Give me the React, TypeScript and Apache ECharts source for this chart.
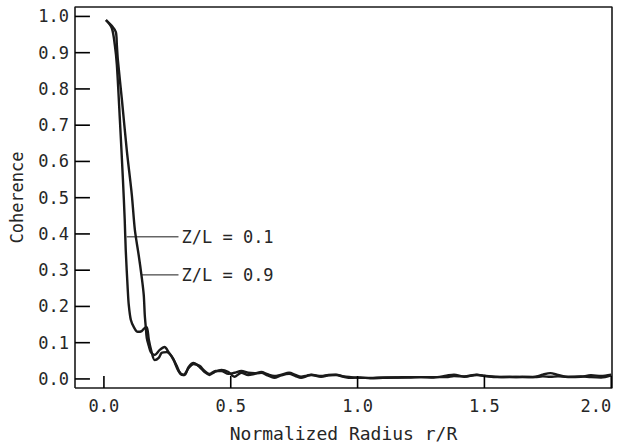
import React, { useEffect, useRef } from "react";
import * as echarts from "echarts";

const xTicks = [0, 0.5, 1.0, 1.5, 2.0];
const yTicks = [0, 0.1, 0.2, 0.3, 0.4, 0.5, 0.6, 0.7, 0.8, 0.9, 1.0];

// Z/L = 0.1 (steeper curve)
const curveA: [number, number][] = [
  [0.008, 0.99], [0.031, 0.968], [0.043, 0.921], [0.051, 0.866], [0.063, 0.714],
  [0.075, 0.549], [0.082, 0.439], [0.086, 0.356], [0.094, 0.246], [0.098, 0.204],
  [0.106, 0.163], [0.118, 0.143], [0.133, 0.13], [0.149, 0.132], [0.161, 0.141],
  [0.169, 0.143], [0.177, 0.108], [0.188, 0.074], [0.2, 0.052], [0.216, 0.058],
  [0.228, 0.072], [0.247, 0.074], [0.267, 0.063], [0.287, 0.036], [0.302, 0.014],
  [0.318, 0.011], [0.334, 0.033], [0.353, 0.044], [0.377, 0.033], [0.397, 0.019],
  [0.416, 0.011], [0.436, 0.019], [0.463, 0.025], [0.491, 0.019], [0.514, 0.006],
  [0.542, 0.017], [0.569, 0.011], [0.595, 0.014], [0.62, 0.017], [0.645, 0.01],
  [0.671, 0.003], [0.7, 0.01], [0.73, 0.014], [0.755, 0.008], [0.777, 0.003],
  [0.8, 0.008], [0.817, 0.011], [0.856, 0.006], [0.885, 0.01], [0.915, 0.011],
  [0.945, 0.006], [0.974, 0.003], [1.01, 0.004], [1.05, 0.002], [1.1, 0.003],
  [1.15, 0.004], [1.2, 0.004], [1.25, 0.005], [1.3, 0.004], [1.35, 0.009],
  [1.38, 0.012], [1.42, 0.006], [1.47, 0.011], [1.5, 0.009], [1.55, 0.005],
  [1.6, 0.006], [1.65, 0.005], [1.7, 0.006], [1.73, 0.012], [1.76, 0.016],
  [1.79, 0.011], [1.83, 0.005], [1.88, 0.006], [1.92, 0.01], [1.96, 0.008],
  [2.0, 0.012],
];

// Z/L = 0.9
const curveB: [number, number][] = [
  [0.008, 0.99], [0.031, 0.974], [0.047, 0.957], [0.051, 0.921], [0.055, 0.88],
  [0.071, 0.77], [0.09, 0.632], [0.11, 0.508], [0.122, 0.411], [0.137, 0.342],
  [0.149, 0.281], [0.157, 0.232], [0.161, 0.177], [0.165, 0.143], [0.169, 0.113],
  [0.177, 0.091], [0.185, 0.074], [0.2, 0.066], [0.22, 0.08], [0.239, 0.088],
  [0.255, 0.074], [0.275, 0.052], [0.294, 0.022], [0.314, 0.011], [0.334, 0.03],
  [0.353, 0.041], [0.377, 0.036], [0.397, 0.022], [0.416, 0.014], [0.44, 0.022],
  [0.463, 0.022], [0.491, 0.014], [0.514, 0.017], [0.542, 0.022], [0.569, 0.017],
  [0.595, 0.016], [0.62, 0.019], [0.645, 0.013], [0.671, 0.008], [0.7, 0.012],
  [0.73, 0.017], [0.755, 0.011], [0.777, 0.006], [0.8, 0.009], [0.817, 0.012],
  [0.856, 0.008], [0.885, 0.011], [0.915, 0.012], [0.945, 0.007], [0.974, 0.005],
  [1.01, 0.003], [1.05, 0.003], [1.1, 0.004], [1.15, 0.004], [1.2, 0.005],
  [1.25, 0.005], [1.3, 0.005], [1.35, 0.005], [1.38, 0.008], [1.42, 0.007],
  [1.47, 0.012], [1.5, 0.008], [1.55, 0.006], [1.6, 0.005], [1.65, 0.006],
  [1.7, 0.005], [1.73, 0.007], [1.76, 0.006], [1.79, 0.007], [1.83, 0.006],
  [1.88, 0.007], [1.92, 0.005], [1.96, 0.004], [2.0, 0.01],
];

const leaderA: [number, number][] = [[0.09, 0.392], [0.294, 0.392]];
const leaderB: [number, number][] = [[0.149, 0.287], [0.294, 0.287]];
const labelA = "Z/L = 0.1";
const labelB = "Z/L = 0.9";

const X_MIN = -0.114;
const X_MAX = 2.003;
const Y_MIN = -0.025;
const Y_MAX = 1.026;

const FONT = "DejaVu Sans Mono";
const INK = "#1a1a1a";
const TEXT = "#262626";

export default function App() {
  const ref = useRef<HTMLDivElement>(null);
  useEffect(() => {
    if (!ref.current) return;
    const chart = echarts.init(ref.current, null, { renderer: "svg" });
    const labelStyle = { fontFamily: FONT, fontSize: 17, color: TEXT };
    // tick lengths expressed in axis units (about 12px / 15px at this chart size)
    const xTickLen = 12 / 362.5;
    const yTickLen = 15 / 254.7;
    const tickStyle = { color: "#000000", width: 1.6 };
    const tickSeries = [
      ...xTicks.map((v) => ({
        type: "line",
        silent: true,
        showSymbol: false,
        clip: false,
        z: 4,
        data: [[v, Y_MIN], [v, Y_MIN + xTickLen]],
        lineStyle: tickStyle,
      })),
      ...yTicks.map((v) => ({
        type: "line",
        silent: true,
        showSymbol: false,
        clip: false,
        z: 4,
        data: [[X_MIN, v], [X_MIN + yTickLen, v]],
        lineStyle: tickStyle,
      })),
    ];
    const frame = {
      type: "line",
      silent: true,
      showSymbol: false,
      clip: false,
      z: 3,
      data: [
        [X_MIN, Y_MIN], [X_MAX, Y_MIN], [X_MAX, Y_MAX], [X_MIN, Y_MAX], [X_MIN, Y_MIN],
      ],
      lineStyle: { color: INK, width: 1.6 },
    };
    chart.setOption({
      animation: false,
      backgroundColor: "#ffffff",
      grid: { left: 73, right: 5, top: 7, bottom: 60, show: false },
      xAxis: {
        type: "value",
        min: X_MIN,
        max: X_MAX,
        name: "Normalized Radius r/R",
        nameLocation: "middle",
        nameGap: 36,
        nameTextStyle: { fontFamily: FONT, fontSize: 18, color: TEXT },
        splitLine: { show: false },
        axisLine: { show: false, onZero: false },
        axisTick: { show: false },
        axisLabel: {
          ...labelStyle,
          margin: 9,
          customValues: xTicks,
          alignMaxLabel: "right",
          formatter: (v: number) => v.toFixed(1),
        },
      },
      yAxis: {
        type: "value",
        min: Y_MIN,
        max: Y_MAX,
        name: "Coherence",
        nameLocation: "middle",
        nameGap: 50,
        nameTextStyle: { fontFamily: FONT, fontSize: 17, color: TEXT },
        splitLine: { show: false },
        axisLine: { show: false, onZero: false },
        axisTick: { show: false },
        axisLabel: {
          ...labelStyle,
          margin: 6,
          customValues: yTicks,
          formatter: (v: number) => v.toFixed(1),
        },
      },
      series: [
        frame,
        ...tickSeries,
        {
          type: "line",
          data: curveA,
          showSymbol: false,
          smooth: 0.3,
          lineStyle: { color: INK, width: 2.4 },
        },
        {
          type: "line",
          data: curveB,
          showSymbol: false,
          smooth: 0.3,
          lineStyle: { color: INK, width: 2.4 },
        },
        {
          type: "line",
          name: labelA,
          data: leaderA,
          showSymbol: false,
          lineStyle: { color: INK, width: 1 },
          endLabel: { show: true, formatter: labelA, distance: 3, ...labelStyle },
        },
        {
          type: "line",
          name: labelB,
          data: leaderB,
          showSymbol: false,
          lineStyle: { color: INK, width: 1 },
          endLabel: { show: true, formatter: labelB, distance: 3, ...labelStyle },
        },
      ],
    });
    return () => chart.dispose();
  }, []);
  return (
    <div
      ref={ref}
      style={{ position: "fixed", left: 0, top: 0, width: 617, height: 448 }}
    />
  );
}
